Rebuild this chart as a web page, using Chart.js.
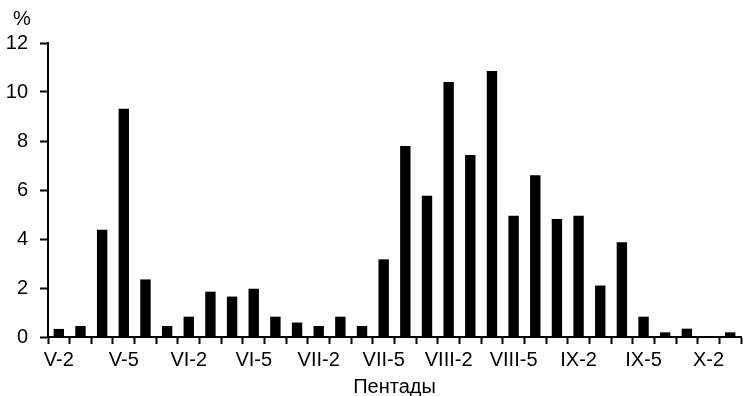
<!DOCTYPE html>
<html>
<head>
<meta charset="utf-8">
<script src="https://cdn.jsdelivr.net/npm/chart.js@4"></script>
<style>
html,body{margin:0;padding:0;background:#fff;}
#wrap{width:743px;height:396px;position:relative;}
</style>
</head>
<body>
<div id="wrap"><canvas id="c" width="743" height="396"></canvas></div>
<script>
const pentads = ["V-2","V-3","V-4","V-5","V-6",
  "VI-1","VI-2","VI-3","VI-4","VI-5","VI-6",
  "VII-1","VII-2","VII-3","VII-4","VII-5","VII-6",
  "VIII-1","VIII-2","VIII-3","VIII-4","VIII-5","VIII-6",
  "IX-1","IX-2","IX-3","IX-4","IX-5","IX-6",
  "X-1","X-2","X-3"];
const shares = [0.33,0.45,4.38,9.32,2.35,
  0.45,0.83,1.85,1.65,1.97,0.83,
  0.59,0.45,0.83,0.45,3.17,7.8,
  5.77,10.41,7.43,10.86,4.95,6.6,
  4.82,4.95,2.1,3.87,0.83,0.19,
  0.34,0,0.19];
const yTicks = [0,2,4,6,8,10,12];
const unitLabel = "%";
const xTitle = "Пентады";
const shownEvery = 3;

const FONT = "'Liberation Sans', Arial, sans-serif";

const unitPlugin = {
  id: 'unitPlugin',
  afterDraw(chart) {
    const ctx = chart.ctx;
    ctx.save();
    ctx.font = "20px " + FONT;
    ctx.fillStyle = "#000";
    ctx.textAlign = "center";
    ctx.textBaseline = "middle";
    ctx.fillText(unitLabel, 22, 19);
    ctx.restore();
  }
};

new Chart(document.getElementById('c'), {
  type: 'bar',
  data: {
    labels: pentads,
    datasets: [{
      data: shares,
      backgroundColor: '#000',
      borderWidth: 0,
      barPercentage: 0.48,
      categoryPercentage: 1.0
    }]
  },
  options: {
    responsive: false,
    animation: false,
    events: [],
    layout: { padding: { top: 43, right: 2, left: 0, bottom: 0 } },
    plugins: { legend: { display: false }, tooltip: { enabled: false } },
    scales: {
      x: {
        offset: true,
        afterFit(scale) { scale.height = 59; },
        grid: {
          offset: true,
          drawOnChartArea: false,
          drawTicks: true,
          tickLength: 7,
          color: '#000',
          tickWidth: 2
        },
        border: { display: true, color: '#000', width: 2 },
        ticks: {
          autoSkip: false,
          maxRotation: 0,
          minRotation: 0,
          padding: 4,
          color: '#000',
          font: { family: FONT, size: 20 },
          callback(v, i) { return i % shownEvery === 0 ? pentads[i] : ''; }
        },
        title: {
          display: true,
          text: xTitle,
          color: '#000',
          font: { family: FONT, size: 20, lineHeight: 0.9 },
          padding: { top: 0, bottom: 0 }
        }
      },
      y: {
        min: 0,
        max: 12,
        afterFit(scale) { scale.width = 48; },
        afterBuildTicks(scale) { scale.ticks = yTicks.map(v => ({ value: v })); },
        grid: {
          drawOnChartArea: false,
          drawTicks: true,
          tickLength: 8,
          color: '#000',
          tickWidth: 2
        },
        border: { display: true, color: '#000', width: 2 },
        ticks: {
          padding: 12,
          color: '#000',
          font: { family: FONT, size: 20 }
        }
      }
    }
  },
  plugins: [unitPlugin]
});
</script>
</body>
</html>
